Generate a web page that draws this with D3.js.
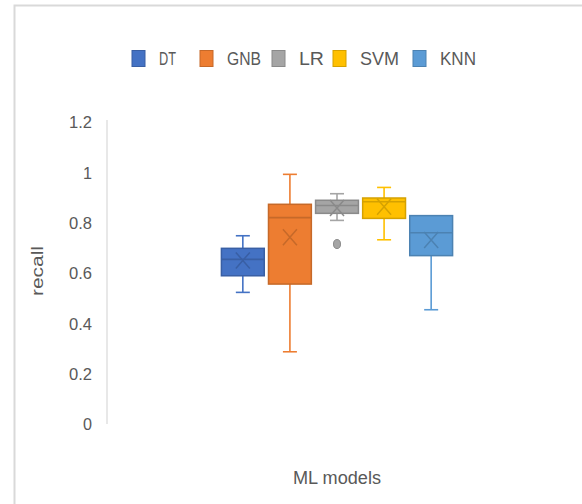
<!DOCTYPE html>
<html><head><meta charset="utf-8">
<script src="https://cdn.jsdelivr.net/npm/d3@7"></script>
<style>html,body{margin:0;padding:0;background:#fff;}</style>
</head><body>
<svg id="c" width="582" height="504"></svg>
<script>
const models = ["DT","GNB","LR","SVM","KNN"];
const colors = ["#4472C4","#ED7D31","#A5A5A5","#FFC000","#5B9BD5"];
const whiskerLow  = [0.523, 0.287, 0.809, 0.732, 0.454];
const q1          = [0.589, 0.556, 0.837, 0.817, 0.669];
const median      = [0.654, 0.820, 0.868, 0.883, 0.760];
const q3          = [0.698, 0.873, 0.889, 0.898, 0.828];
const whiskerHigh = [0.748, 0.992, 0.915, 0.940, 0.828];
const means       = [0.650, 0.742, 0.858, 0.863, 0.731];
const outliers    = [[], [], [0.715], [], []];
const yTicks = [0, 0.2, 0.4, 0.6, 0.8, 1, 1.2];
const yTickLabels = ["0","0.2","0.4","0.6","0.8","1","1.2"];
const category = ["ML models"];
const legendWidths = [17, 34, 25, 39, 36];

const svg = d3.select("#c");
const font = "'Liberation Sans', Arial, sans-serif";
const textCol = "#595959";

// frame
svg.append("rect").attr("x",14.5).attr("y",5.5).attr("width",700).attr("height",700)
  .attr("fill","none").attr("stroke","#d9d9d9").attr("stroke-width",2);

const y = d3.scaleLinear().domain([0,1.2]).range([424,122]);
const xCat = d3.scaleBand().domain(category).range([107,567]).paddingOuter(0.477).paddingInner(0);
const x = d3.scaleBand().domain(models).range([xCat(category[0]), xCat(category[0]) + xCat.bandwidth()])
  .paddingInner(0.09).paddingOuter(0.045);

// y axis
const yAxis = d3.axisLeft(y).tickValues(yTicks).tickFormat((d,i)=>yTickLabels[i]).tickSize(0).tickPadding(15);
const ga = svg.append("g").attr("transform","translate(107,0)").call(yAxis);
ga.select(".domain").attr("stroke","#d9d9d9").attr("stroke-width",1.2).attr("d","M0,120V424");
ga.selectAll("text").attr("font-family",font).attr("font-size",17).attr("fill",textCol)
  .attr("dy","0.34em")
  .each(function(d,i){ const n = yTickLabels[i].length; d3.select(this).attr("textLength", n===1 ? 9 : 23).attr("lengthAdjust","spacingAndGlyphs"); });

// y label
svg.append("text").attr("transform","translate(43,271) rotate(-90)").attr("text-anchor","middle")
  .attr("font-family",font).attr("font-size",16).attr("fill",textCol)
  .attr("textLength",50).attr("lengthAdjust","spacingAndGlyphs").text("recall");

// x label
svg.append("text").attr("x",xCat(category[0]) + xCat.bandwidth()/2).attr("y",484).attr("text-anchor","middle")
  .attr("font-family",font).attr("font-size",18).attr("fill",textCol)
  .attr("textLength",88).attr("lengthAdjust","spacingAndGlyphs").text(category[0]);

// boxes
const darker = c => d3.color(c).darker(0.5).formatHex();
models.forEach((m,i)=>{
  const g = svg.append("g");
  const bx = x(m), bw = x.bandwidth(), cx = bx + bw/2, col = colors[i], dk = darker(col);
  const cap = 7;
  if (whiskerHigh[i] > q3[i]) {
    g.append("line").attr("x1",cx).attr("x2",cx).attr("y1",y(q3[i])).attr("y2",y(whiskerHigh[i])).attr("stroke",col).attr("stroke-width",1.6);
    g.append("line").attr("x1",cx-cap).attr("x2",cx+cap).attr("y1",y(whiskerHigh[i])).attr("y2",y(whiskerHigh[i])).attr("stroke",col).attr("stroke-width",1.6);
  }
  if (whiskerLow[i] < q1[i]) {
    g.append("line").attr("x1",cx).attr("x2",cx).attr("y1",y(q1[i])).attr("y2",y(whiskerLow[i])).attr("stroke",col).attr("stroke-width",1.6);
    g.append("line").attr("x1",cx-cap).attr("x2",cx+cap).attr("y1",y(whiskerLow[i])).attr("y2",y(whiskerLow[i])).attr("stroke",col).attr("stroke-width",1.6);
  }
  g.append("rect").attr("x",bx).attr("y",y(q3[i])).attr("width",bw).attr("height",y(q1[i])-y(q3[i]))
    .attr("fill",col).attr("stroke",dk).attr("stroke-width",1.5);
  g.append("line").attr("x1",bx).attr("x2",bx+bw).attr("y1",y(median[i])).attr("y2",y(median[i])).attr("stroke",dk).attr("stroke-width",1.6);
  const my = y(means[i]), mw = 7, mh = 8;
  g.append("path").attr("d",`M${cx-mw},${my-mh}L${cx+mw},${my+mh}M${cx+mw},${my-mh}L${cx-mw},${my+mh}`)
    .attr("stroke",dk).attr("stroke-width",1.5).attr("fill","none");
  outliers[i].forEach(o=>{
    g.append("ellipse").attr("cx",cx).attr("cy",y(o)).attr("rx",3.5).attr("ry",4.5).attr("fill",col).attr("stroke",dk).attr("stroke-width",1);
  });
});

// legend
const legendX = [132, 200, 272, 333, 413];
models.forEach((m,i)=>{
  svg.append("rect").attr("x",legendX[i]).attr("y",50.5).attr("width",13).attr("height",16)
    .attr("fill",colors[i]).attr("stroke",darker(colors[i])).attr("stroke-width",1);
  svg.append("text").attr("x",legendX[i]+27).attr("y",65).attr("font-family",font).attr("font-size",18)
    .attr("fill",textCol).attr("textLength",legendWidths[i]).attr("lengthAdjust","spacingAndGlyphs").text(m);
});
</script>
</body></html>
